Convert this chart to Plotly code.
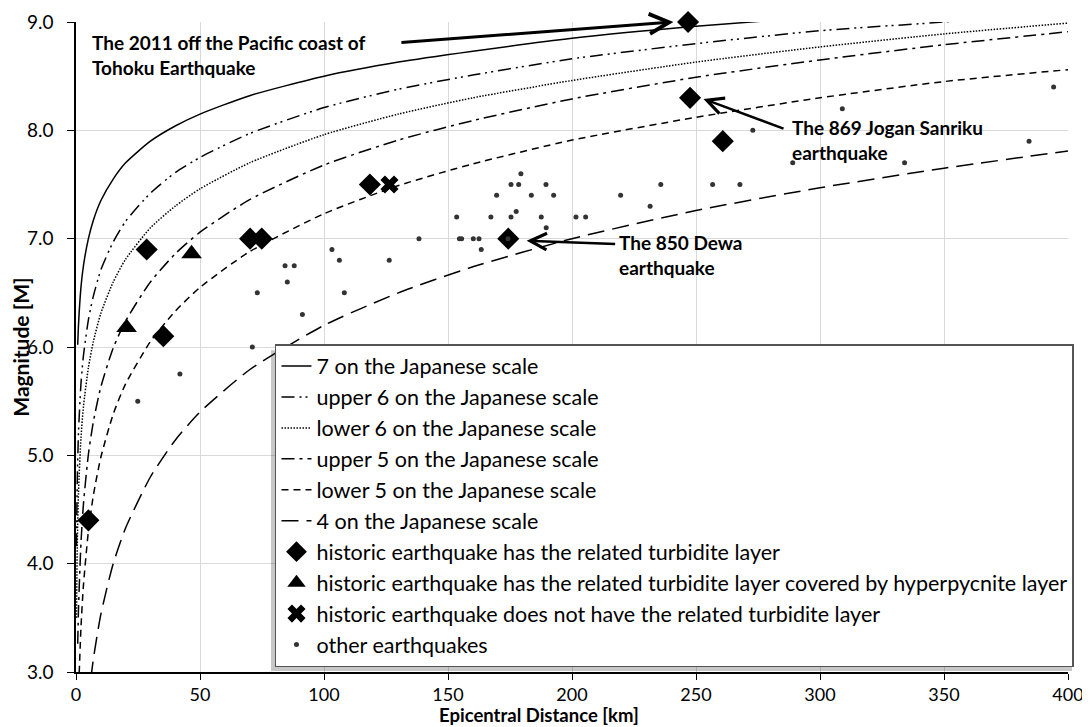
import plotly.graph_objects as go

# ---------------- data ----------------
# Attenuation curves (epicentral distance km, magnitude M)
s7_x = [0.7, 1, 2, 3, 5, 7, 10, 15, 20, 30, 40, 50, 70, 100, 130, 160, 200, 250, 300]
s7_m = [6.02, 6.20, 6.55, 6.75, 7.00, 7.17, 7.35, 7.55, 7.70, 7.90, 8.04, 8.15, 8.32, 8.50, 8.63, 8.73, 8.85, 8.96, 9.05]

u6_x = [0.2, 0.5, 1, 2, 3, 5, 7, 10, 15, 20, 30, 40, 50, 70, 100, 130, 160, 200, 250, 300, 350, 370]
u6_m = [4.16, 4.75, 5.21, 5.66, 5.92, 6.25, 6.47, 6.71, 6.97, 7.16, 7.42, 7.61, 7.75, 7.97, 8.21, 8.38, 8.51, 8.66, 8.80, 8.92, 9.00, 9.04]

l6_x = [0.2, 0.5, 1, 2, 3, 5, 7, 10, 15, 20, 30, 40, 50, 70, 100, 130, 160, 200, 250, 300, 350, 400]
l6_m = [3.50, 4.16, 4.66, 5.16, 5.45, 5.81, 6.05, 6.31, 6.60, 6.81, 7.10, 7.30, 7.46, 7.70, 7.96, 8.15, 8.30, 8.46, 8.63, 8.77, 8.89, 8.99]

u5_x = [0.7, 1, 2, 3, 5, 7, 10, 15, 20, 30, 40, 50, 70, 100, 130, 160, 200, 250, 300, 350, 400]
u5_m = [3.26, 3.58, 4.19, 4.55, 5.01, 5.31, 5.63, 5.99, 6.24, 6.60, 6.86, 7.06, 7.36, 7.68, 7.91, 8.09, 8.29, 8.49, 8.65, 8.79, 8.91]

l5_x = [1.3, 2, 3, 5, 7, 10, 15, 20, 30, 40, 50, 70, 100, 130, 160, 200, 250, 300, 350, 400]
l5_m = [2.99, 3.41, 3.80, 4.30, 4.63, 4.98, 5.38, 5.66, 6.05, 6.33, 6.55, 6.88, 7.23, 7.49, 7.69, 7.91, 8.12, 8.30, 8.45, 8.56]

s4_x = [6, 7, 10, 15, 20, 30, 40, 50, 70, 100, 130, 160, 200, 250, 300, 350, 400]
s4_m = [2.94, 3.12, 3.53, 4.00, 4.33, 4.80, 5.14, 5.40, 5.79, 6.20, 6.50, 6.74, 7.00, 7.26, 7.47, 7.65, 7.81]

# historic earthquakes with related turbidite layer
turb_x = [246.8, 247.6, 260.8, 174.3, 118.5, 70.2, 74.9, 28.5, 35.2, 5.0]
turb_m = [9.0, 8.3, 7.9, 7.0, 7.5, 7.0, 7.0, 6.9, 6.1, 4.4]

# covered by hyperpycnite layer
hyp_x = [46.6, 20.4]
hyp_m = [6.86, 6.18]

# no related turbidite layer
none_x = [126.4]
none_m = [7.5]

# other earthquakes
oth_x = [24.9, 41.9, 71.1, 73.1, 84.3, 88.0, 85.2, 91.3, 103.2, 106.2, 108.2, 126.3, 138.3,
         153.5, 154.6, 155.5, 160.2, 162.5, 163.4, 167.3, 169.6, 175.4, 175.4, 178.5, 177.5,
         179.4, 183.6, 187.6, 189.5, 189.6, 192.6, 201.6, 205.5, 219.6, 231.5, 235.8, 256.7,
         267.7, 272.9, 289.0, 309.0, 334.1, 384.3, 394.2, 174.2]
oth_m = [5.5, 5.75, 6.0, 6.5, 6.75, 6.75, 6.6, 6.3, 6.9, 6.8, 6.5, 6.8, 7.0,
         7.2, 7.0, 7.0, 7.0, 7.0, 6.9, 7.2, 7.4, 7.2, 7.5, 7.5, 7.25,
         7.6, 7.4, 7.2, 7.5, 7.1, 7.4, 7.2, 7.2, 7.4, 7.3, 7.5, 7.5,
         7.5, 8.0, 7.7, 8.2, 7.7, 7.9, 8.4, 7.0]

x_ticks = [0, 50, 100, 150, 200, 250, 300, 350, 400]
y_ticks = [3.0, 4.0, 5.0, 6.0, 7.0, 8.0, 9.0]

FONT = "Lato"

fig = go.Figure()

curves = [
    ("7 on the Japanese scale", s7_x, s7_m, "solid"),
    ("upper 6 on the Japanese scale", u6_x, u6_m, "13px,5px,2px,4px,2px,5px"),
    ("lower 6 on the Japanese scale", l6_x, l6_m, "1.5px,1.5px"),
    ("upper 5 on the Japanese scale", u5_x, u5_m, "13px,5px,3px,5px"),
    ("lower 5 on the Japanese scale", l5_x, l5_m, "7px,5px"),
    ("4 on the Japanese scale", s4_x, s4_m, "17px,8px"),
]
for i, (name, xs, ys, dash) in enumerate(curves):
    fig.add_trace(go.Scatter(x=xs, y=ys, mode="lines", name=name,
                             line=dict(color="black", width=1.5, dash=dash, shape="spline", smoothing=0.6)))

fig.add_trace(go.Scatter(x=turb_x, y=turb_m, mode="markers",
                         name="historic earthquake has the related turbidite layer",
                         marker=dict(symbol="diamond", size=17, color="black"), cliponaxis=False))
fig.add_trace(go.Scatter(x=hyp_x, y=hyp_m, mode="markers",
                         name="historic earthquake has the related turbidite layer covered by hyperpycnite layer",
                         marker=dict(symbol="triangle-up", size=18, color="black")))
fig.add_trace(go.Scatter(x=none_x, y=none_m, mode="markers",
                         name="historic earthquake does not have the related turbidite layer",
                         marker=dict(symbol="x", size=16, color="black")))
fig.add_trace(go.Scatter(x=oth_x, y=oth_m, mode="markers",
                         name="other earthquakes",
                         marker=dict(symbol="circle", size=5, color="#333333")))

# annotations
lab_font = dict(family=FONT, size=19, color="black")
fig.add_annotation(x=5.8, y=8.70, xref="x", yref="y", showarrow=False, xanchor="left", yanchor="middle",
                   align="left", text="<b>The 2011 off the Pacific coast of<br>Tohoku Earthquake</b>", font=lab_font)
fig.add_annotation(x=288.0, y=7.91, xref="x", yref="y", showarrow=False, xanchor="left", yanchor="middle",
                   align="left", text="<b>The 869 Jogan Sanriku<br>earthquake</b>", font=lab_font)
fig.add_annotation(x=218.0, y=6.85, xref="x", yref="y", showarrow=False, xanchor="left", yanchor="middle",
                   align="left", text="<b>The 850 Dewa<br>earthquake</b>", font=lab_font)

# x-axis title (sits slightly left of the plot centre in the original)
fig.add_annotation(x=0.4667, y=-0.0662, xref="paper", yref="paper", showarrow=False,
                   xanchor="center", yanchor="middle", borderpad=0,
                   text="<b>Epicentral Distance [km]</b>", font=dict(family=FONT, size=18.5, color="black"))

arrows = [
    (240.9, 9.0, 130.6, 8.81, 3),
    (253.0, 8.29, 285.9, 8.01, 2.5),
    (181.7, 6.98, 218.0, 6.95, 2.5),
]
for hx, hy, tx, ty, w in arrows:
    fig.add_annotation(x=hx, y=hy, ax=tx, ay=ty, xref="x", yref="y", axref="x", ayref="y",
                       text="", showarrow=True, arrowhead=5, arrowsize=1.3, arrowwidth=w,
                       arrowcolor="black")

# legend drop shadow (offset to lower-left)
fig.add_shape(type="rect", xref="paper", yref="paper", layer="above",
              x0=0.1966, x1=1.004, y0=0.0015, y1=0.495,
              fillcolor="rgba(0,0,0,0.22)", line=dict(width=0))

# the page body adds an 8 px margin, so the figure is 8 px smaller on each axis
fig.update_layout(
    width=1082, height=719,
    margin=dict(l=68, r=22, t=14, b=55),
    paper_bgcolor="white", plot_bgcolor="white",
    font=dict(family=FONT, size=19, color="black"),
    showlegend=True,
    legend=dict(x=0.2006, y=0.5046, xanchor="left", yanchor="top",
                bgcolor="white", bordercolor="#555555", borderwidth=1.5,
                font=dict(family=FONT, size=21.5, color="black"),
                tracegroupgap=0, itemwidth=30),
    xaxis=dict(range=[0, 400], tickvals=x_ticks, showgrid=True, gridcolor="#d9d9d9", gridwidth=1,
               showline=True, linecolor="black", linewidth=1.5, ticks="outside", ticklen=6,
               tickcolor="black", zeroline=False, automargin=False, ticklabelstandoff=0,
               tickfont=dict(family=FONT, size=18)),
    yaxis=dict(range=[3, 9], tickvals=y_ticks, tickformat=".1f", showgrid=True, gridcolor="#d9d9d9",
               gridwidth=1, showline=True, linecolor="black", linewidth=1.5, ticks="outside", ticklen=7,
               tickcolor="black", zeroline=False, automargin=False, ticklabelstandoff=10,
               tickfont=dict(family=FONT, size=19),
               title=dict(text="<b>Magnitude [M]</b>", font=dict(family=FONT, size=21), standoff=0)),
)

fig.write_html("out.html")
